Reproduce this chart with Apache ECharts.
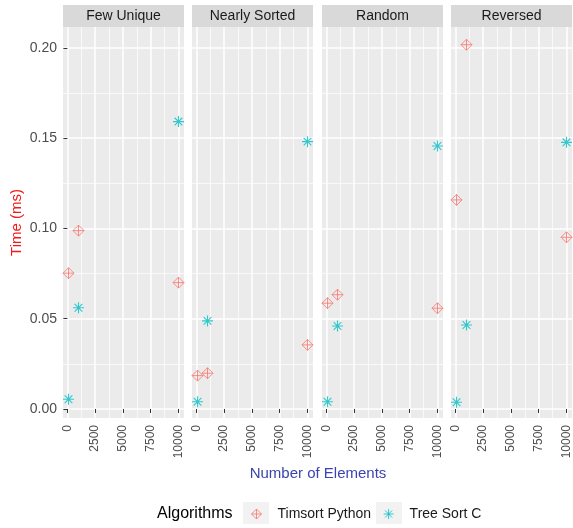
<!DOCTYPE html>
<html>
<head>
<meta charset="utf-8">
<script src="https://cdn.jsdelivr.net/npm/echarts@6/dist/echarts.min.js"></script>
<style>
  html, body { margin: 0; background: #fff; }
  #chart { width: 573px; height: 528px; }
</style>
</head>
<body>
<div id="chart"></div>
<script>
// facets and data (time in ms)
const panels = ['Few Unique', 'Nearly Sorted', 'Random', 'Reversed']
const sizes = [100, 1000, 10000]
const timsort = [
  [0.0752, 0.0988, 0.0700],
  [0.0185, 0.0198, 0.0355],
  [0.0586, 0.0633, 0.0558],
  [0.1158, 0.2018, 0.0951]
]
const treeSort = [
  [0.0054, 0.0561, 0.1592],
  [0.0040, 0.0488, 0.1481],
  [0.0040, 0.0460, 0.1457],
  [0.0037, 0.0465, 0.1477]
]
const xMajor = [0, 2500, 5000, 7500, 10000]
const xMinor = [1250, 3750, 6250, 8750]
const yMajor = [0, 0.05, 0.1, 0.15, 0.2]
const yMinor = [0.025, 0.075, 0.125, 0.175]

const RED = '#F8766D'
const CYAN = '#00BFC4'
const FONT = '"Liberation Sans", Arial, sans-serif'
const diamondPlus = 'path://M0,-10L10,0L0,10L-10,0ZM0,-10L0,10M-10,0L10,0'
const asterisk = 'path://M-10,0L10,0M0,-10L0,10M-7,-7L7,7M-7,7L7,-7'

const lefts = [63, 192, 322, 451]
const panelW = 121
const panelTop = 27
const panelH = 391

const grids = [], xAxes = [], yAxes = [], series = [], graphics = []

panels.forEach((name, i) => {
  grids.push({
    left: lefts[i], top: panelTop, width: panelW, height: panelH,
    show: true, backgroundColor: '#EBEBEB', borderWidth: 0
  })
  // major x
  xAxes.push({
    gridIndex: i, type: 'value', min: -395, max: 10495,
    axisLine: { show: false },
    axisTick: { show: true, length: 4, lineStyle: { color: '#333' }, customValues: xMajor },
    axisLabel: {
      customValues: xMajor, rotate: 90, fontSize: 12, color: '#4D4D4D', margin: 7, fontFamily: FONT,
      formatter: v => String(v)
    },
    splitLine: { show: true, lineStyle: { color: '#fff', width: 1.5 } }
  })
  // minor x
  xAxes.push({
    gridIndex: i, type: 'value', min: -395, max: 10495,
    axisLine: { show: false },
    axisTick: { show: false, customValues: xMinor },
    axisLabel: { show: false },
    splitLine: { show: true, lineStyle: { color: '#fff', width: 0.7 } }
  })
  // major y
  yAxes.push({
    gridIndex: i, type: 'value', min: -0.005, max: 0.2116,
    axisLine: { show: false },
    axisTick: { show: i === 0, length: 4, lineStyle: { color: '#333' }, customValues: yMajor },
    axisLabel: {
      show: i === 0, customValues: yMajor, fontSize: 14, color: '#4D4D4D', margin: 6, fontFamily: FONT,
      formatter: v => v.toFixed(2)
    },
    name: i === 0 ? 'Time (ms)' : '',
    nameLocation: 'middle', nameGap: 39,
    nameTextStyle: { color: '#F21A1A', fontSize: 15, fontFamily: FONT },
    splitLine: { show: true, lineStyle: { color: '#fff', width: 1.5 } }
  })
  // minor y
  yAxes.push({
    gridIndex: i, type: 'value', min: -0.005, max: 0.2116, position: 'left',
    axisLine: { show: false },
    axisTick: { show: false, customValues: yMinor },
    axisLabel: { show: false },
    splitLine: { show: true, lineStyle: { color: '#fff', width: 0.7 } }
  })

  series.push({
    name: 'Timsort Python', type: 'scatter',
    xAxisIndex: 2 * i, yAxisIndex: 2 * i,
    symbol: diamondPlus, symbolSize: 11,
    itemStyle: { color: 'transparent', borderColor: RED, borderWidth: 1 },
    data: sizes.map((s, k) => [s, timsort[i][k]])
  })
  series.push({
    name: 'Tree Sort C', type: 'scatter',
    xAxisIndex: 2 * i, yAxisIndex: 2 * i,
    symbol: asterisk, symbolSize: 11,
    itemStyle: { color: 'transparent', borderColor: CYAN, borderWidth: 1.1 },
    data: sizes.map((s, k) => [s, treeSort[i][k]])
  })

  // facet strip
  graphics.push({
    type: 'rect', left: lefts[i], top: 5,
    shape: { width: panelW, height: 22 },
    style: { fill: '#D9D9D9' }
  })
  graphics.push({
    type: 'text', x: lefts[i] + panelW / 2, y: 16,
    style: { text: name, fill: '#1A1A1A', font: '14px ' + FONT, align: 'center', verticalAlign: 'middle' }
  })
})

// legend
graphics.push({
  type: 'text', x: 157, y: 514,
  style: { text: 'Algorithms', fill: '#000', font: '16px ' + FONT, verticalAlign: 'middle' }
})
graphics.push({ type: 'rect', left: 243, top: 502, shape: { width: 26, height: 22 }, style: { fill: '#F2F2F2' }, z: -1 })
graphics.push({ type: 'rect', left: 376, top: 502, shape: { width: 26, height: 22 }, style: { fill: '#F2F2F2' }, z: -1 })

const chart = echarts.init(document.getElementById('chart'))
chart.setOption({
  animation: false,
  backgroundColor: '#fff',
  grid: grids,
  xAxis: xAxes,
  yAxis: yAxes,
  graphic: graphics,
  title: {
    text: 'Number of Elements', left: 313, top: 461, textAlign: 'center',
    textStyle: { color: '#3A44B0', fontSize: 15, fontWeight: 'normal', fontFamily: FONT }
  },
  legend: {
    left: 246, top: 502, itemWidth: 10, itemHeight: 10, itemGap: 12,
    textStyle: { fontSize: 14, color: '#1A1A1A', fontFamily: FONT, padding: [0, 0, 0, 11] },
    data: [
      { name: 'Timsort Python', icon: diamondPlus, itemStyle: { color: 'transparent', borderColor: RED, borderWidth: 1 } },
      { name: 'Tree Sort C', icon: asterisk, itemStyle: { color: 'transparent', borderColor: CYAN, borderWidth: 1 } }
    ]
  },
  series: series
})
</script>
</body>
</html>
